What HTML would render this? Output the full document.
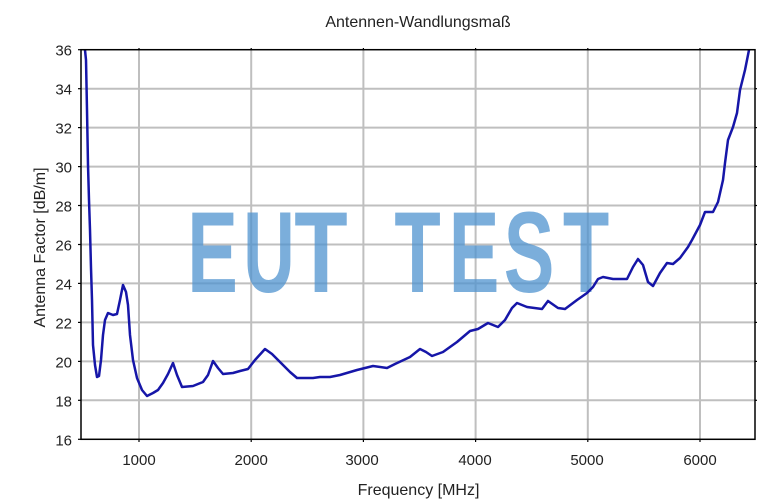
<!DOCTYPE html>
<html>
<head>
<meta charset="utf-8">
<style>
html,body{margin:0;padding:0;background:#fff;}
svg{display:block;}
text{font-family:"Liberation Sans", Arial, sans-serif;}
</style>
</head>
<body>
<svg width="783" height="503" viewBox="0 0 783 503" xmlns="http://www.w3.org/2000/svg">
<rect x="0" y="0" width="783" height="503" fill="#fff"/>
<!-- title -->
<text x="418" y="27" font-size="16" fill="#222" text-anchor="middle">Antennen-Wandlungsmaß</text>

<!-- grid -->
<g stroke="#bfbfbf" stroke-width="2" fill="none">
  <line x1="139" y1="50" x2="139" y2="439"/>
  <line x1="251.2" y1="50" x2="251.2" y2="439"/>
  <line x1="363.4" y1="50" x2="363.4" y2="439"/>
  <line x1="475.6" y1="50" x2="475.6" y2="439"/>
  <line x1="587.8" y1="50" x2="587.8" y2="439"/>
  <line x1="700" y1="50" x2="700" y2="439"/>
  <line x1="81" y1="88.7" x2="755" y2="88.7"/>
  <line x1="81" y1="127.6" x2="755" y2="127.6"/>
  <line x1="81" y1="166.6" x2="755" y2="166.6"/>
  <line x1="81" y1="205.5" x2="755" y2="205.5"/>
  <line x1="81" y1="244.5" x2="755" y2="244.5"/>
  <line x1="81" y1="283.4" x2="755" y2="283.4"/>
  <line x1="81" y1="322.4" x2="755" y2="322.4"/>
  <line x1="81" y1="361.4" x2="755" y2="361.4"/>
  <line x1="81" y1="400.3" x2="755" y2="400.3"/>
</g>

<!-- watermark -->
<g opacity="0.75" fill="#4f93d0" font-weight="bold" font-size="115">
  <text transform="translate(212.5,292) scale(0.66,1)" text-anchor="middle">E</text>
  <text transform="translate(269,292) scale(0.62,1)" text-anchor="middle">U</text>
  <text transform="translate(321,292) scale(0.76,1)" text-anchor="middle">T</text>
  <text transform="translate(417.5,292) scale(0.66,1)" text-anchor="middle">T</text>
  <text transform="translate(474,292) scale(0.66,1)" text-anchor="middle">E</text>
  <text transform="translate(529,292) scale(0.66,1)" text-anchor="middle">S</text>
  <text transform="translate(586,292) scale(0.66,1)" text-anchor="middle">T</text>
</g>

<!-- curve -->
<clipPath id="c"><rect x="81" y="49" width="674" height="391"/></clipPath>
<polyline clip-path="url(#c)" fill="none" stroke="#1616a8" stroke-width="2.5" stroke-linejoin="round" stroke-linecap="round"
points="85,46 85,50 86,60 87,110 88,165 89,200 90,230 91,268 92,300 93,345 95,365 97,377 99,376 101,360 103,335 105,320 108,313 113,315 117,314 120,300 123,285 126,292 128,305 130,335 133,360 137,378 142,390 147,396 153,393 158,390 163,383 168,374 173,363 177,375 182,387 193,386 203,382 208,375 213,361 218,368 223,374 233,373 240,371 248,369 255,360 265,349 272,354 280,362 290,372 297,378 313,378 320,377 330,377 340,375 357,370 373,366 387,368 395,364 410,357 420,349 426,352 432,356 443,352 457,342 470,331 478,329 488,323 498,327 505,320 512,308 517,303 527,307 542,309 548,301 558,308 565,309 577,300 587,293 593,287 598,279 603,277 613,279 627,279 633,267 638,259 643,265 648,282 653,286 660,273 667,263 673,264 680,258 688,247 692,240 700,225 705,212 713,212 718,202 723,180 725,163 728,140 733,127 737,113 740,90 745,70 749,50 750,46"/>

<!-- axes box -->
<rect x="81" y="49.7" width="674" height="389.6" fill="none" stroke="#000" stroke-width="1.5"/>
<!-- ticks -->
<g stroke="#000" stroke-width="1.2">
  <line x1="78" y1="49.7" x2="81" y2="49.7"/>
  <line x1="78" y1="88.7" x2="81" y2="88.7"/>
  <line x1="78" y1="127.6" x2="81" y2="127.6"/>
  <line x1="78" y1="166.6" x2="81" y2="166.6"/>
  <line x1="78" y1="205.5" x2="81" y2="205.5"/>
  <line x1="78" y1="244.5" x2="81" y2="244.5"/>
  <line x1="78" y1="283.4" x2="81" y2="283.4"/>
  <line x1="78" y1="322.4" x2="81" y2="322.4"/>
  <line x1="78" y1="361.4" x2="81" y2="361.4"/>
  <line x1="78" y1="400.3" x2="81" y2="400.3"/>
  <line x1="78" y1="439.3" x2="81" y2="439.3"/>
  <line x1="755" y1="88.7" x2="757" y2="88.7"/>
  <line x1="755" y1="127.6" x2="757" y2="127.6"/>
  <line x1="755" y1="166.6" x2="757" y2="166.6"/>
  <line x1="755" y1="205.5" x2="757" y2="205.5"/>
  <line x1="755" y1="244.5" x2="757" y2="244.5"/>
  <line x1="755" y1="283.4" x2="757" y2="283.4"/>
  <line x1="755" y1="322.4" x2="757" y2="322.4"/>
  <line x1="755" y1="361.4" x2="757" y2="361.4"/>
  <line x1="755" y1="400.3" x2="757" y2="400.3"/>
  <line x1="139" y1="439" x2="139" y2="442"/>
  <line x1="251.2" y1="439" x2="251.2" y2="442"/>
  <line x1="363.4" y1="439" x2="363.4" y2="442"/>
  <line x1="475.6" y1="439" x2="475.6" y2="442"/>
  <line x1="587.8" y1="439" x2="587.8" y2="442"/>
  <line x1="700" y1="439" x2="700" y2="442"/>
  <line x1="139" y1="48" x2="139" y2="50"/>
  <line x1="251.2" y1="48" x2="251.2" y2="50"/>
  <line x1="363.4" y1="48" x2="363.4" y2="50"/>
  <line x1="475.6" y1="48" x2="475.6" y2="50"/>
  <line x1="587.8" y1="48" x2="587.8" y2="50"/>
  <line x1="700" y1="48" x2="700" y2="50"/>
</g>

<!-- y tick labels -->
<g font-size="15" fill="#222" text-anchor="end">
  <text x="72" y="55.7">36</text>
  <text x="72" y="94.7">34</text>
  <text x="72" y="133.6">32</text>
  <text x="72" y="172.6">30</text>
  <text x="72" y="211.5">28</text>
  <text x="72" y="250.5">26</text>
  <text x="72" y="289.4">24</text>
  <text x="72" y="328.4">22</text>
  <text x="72" y="367.4">20</text>
  <text x="72" y="406.3">18</text>
  <text x="72" y="445.3">16</text>
</g>
<!-- x tick labels -->
<g font-size="15" fill="#222" text-anchor="middle">
  <text x="139" y="465">1000</text>
  <text x="251.2" y="465">2000</text>
  <text x="362" y="465">3000</text>
  <text x="475" y="465">4000</text>
  <text x="587" y="465">5000</text>
  <text x="700" y="465">6000</text>
</g>

<!-- axis labels -->
<text x="418.5" y="495" font-size="16" fill="#222" text-anchor="middle">Frequency [MHz]</text>
<text transform="translate(45,247.5) rotate(-90)" font-size="16" fill="#222" text-anchor="middle">Antenna Factor [dB/m]</text>
</svg>
</body>
</html>
